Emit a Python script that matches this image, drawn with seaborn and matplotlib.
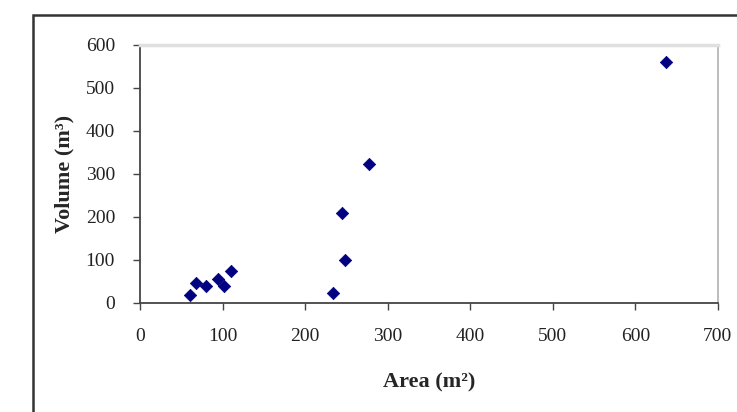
import numpy as np
import pandas as pd
import matplotlib
matplotlib.use("Agg")
import matplotlib.pyplot as plt
import seaborn as sns
from matplotlib.patches import Rectangle

# values
area = [60, 68, 80, 95, 102, 110, 234, 245, 248, 277, 637]
volume = [18, 47, 38, 56, 40, 73, 24, 210, 100, 323, 561]
x_ticks = [0, 100, 200, 300, 400, 500, 600, 700]
y_ticks = [0, 100, 200, 300, 400, 500, 600]

df = pd.DataFrame({"area": area, "volume": volume})

sns.set_style("white")
plt.rcParams["font.family"] = ["Liberation Serif", "DejaVu Serif"]

fig = plt.figure(figsize=(7.37, 4.12), dpi=100)
ax = fig.add_axes([0.19, 0.265, 0.784, 0.626])

sns.scatterplot(data=df, x="area", y="volume", marker="D", s=40,
                color="#000080", edgecolor="#000080", linewidth=0.5, ax=ax)

ax.set_xlim(0, 700)
ax.set_ylim(0, 600)
ax.set_xticks(x_ticks)
ax.set_yticks(y_ticks)
ax.tick_params(direction="out", length=5, width=1, color="#444444",
               labelsize=14, labelcolor="#222222", bottom=True, left=True)
ax.tick_params(axis="y", pad=13)
ax.tick_params(axis="x", pad=13)
ax.set_xlabel("Area (m²)", fontsize=16, fontweight="bold", labelpad=20)
ax.set_ylabel("Volume (m³)", fontsize=16, fontweight="bold", labelpad=8)

for side in ["left", "bottom"]:
    ax.spines[side].set_color("#444444")
    ax.spines[side].set_linewidth(1.3)
ax.spines["top"].set_color("#e0e0e0")
ax.spines["top"].set_linewidth(2.5)
ax.spines["right"].set_color("#b0b0b0")
ax.spines["right"].set_linewidth(1.2)

# outer chart frame
fig.patches.append(Rectangle((33 / 737, -0.1), 1.0, 0.1 + 1 - 15 / 412,
                             transform=fig.transFigure, fill=False,
                             edgecolor="#333333", linewidth=1.8))

fig.savefig("out.png", dpi=100)
